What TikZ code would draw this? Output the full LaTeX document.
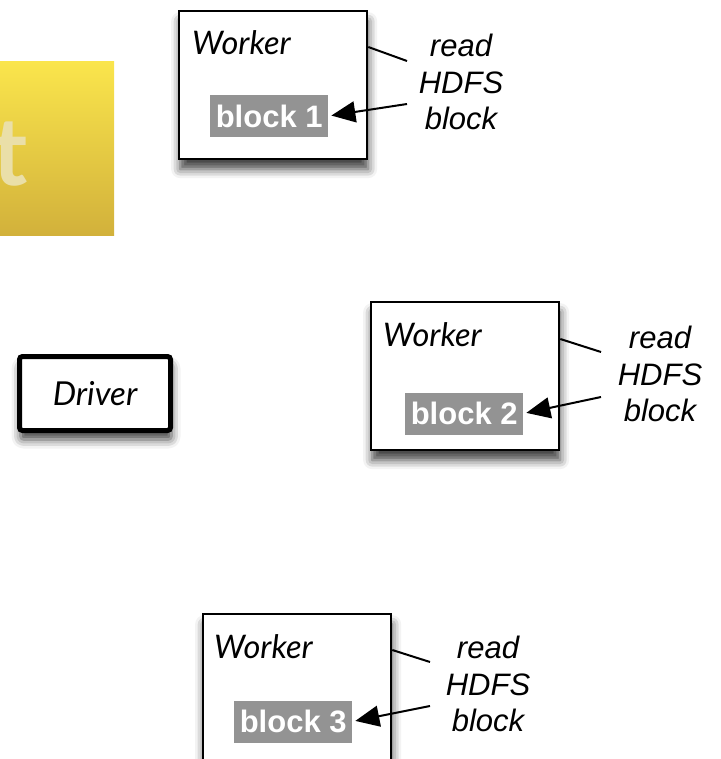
\documentclass[tikz,border=0pt]{standalone}
\usepackage{fontspec}
\setmainfont{Liberation Sans}
\newfontfamily\gillfont{Lato}
\usetikzlibrary{arrows.meta,shadows.blur}

\definecolor{slideyellow}{HTML}{FAE54C}
\definecolor{slidegold}{HTML}{D2B13B}
\definecolor{tcream}{HTML}{EADFA8}
\definecolor{blockgrey}{HTML}{939393}

\tikzset{
  worker/.style={draw,line width=2.3pt,fill=white,anchor=north west,inner sep=0pt,
    minimum width=188pt,minimum height=148pt,
    blur shadow={shadow xshift=1pt,shadow yshift=-10pt,shadow blur radius=9pt,shadow opacity=75}},
  wlabel/.style={anchor=base west,inner sep=0pt,font=\gillfont\itshape\fontsize{32.5}{38}\selectfont},
  blk/.style={anchor=west,fill=blockgrey,text=white,inner sep=0pt,
    minimum width=118pt,minimum height=42pt,font=\bfseries\fontsize{31}{36}\selectfont},
  note/.style={align=center,inner sep=0pt,font=\itshape\fontsize{31}{36.5}\selectfont},
  readarrow/.style={-{Triangle[length=24pt,width=21pt]},line width=2pt,shorten >=3pt},
}

\begin{document}
\begin{tikzpicture}[x=1pt,y=-1pt]
\useasboundingbox (0,0) rectangle (720,759);

% Slide fragment on the left
\begin{scope}
\clip (0,62) rectangle (114,235);
\shade[top color=slideyellow,bottom color=slidegold] (0,62) rectangle (114,235);
\node[font=\gillfont\bfseries\fontsize{95}{95}\selectfont,text=tcream,anchor=base east,inner sep=0pt] (tfrag) at (28,186) {t};
\end{scope}

% Driver
\node[draw,line width=5pt,rounded corners=3pt,fill=white,minimum width=151pt,minimum height=74pt,
  font=\gillfont\itshape\fontsize{33}{38}\selectfont,
  blur shadow={shadow xshift=1pt,shadow yshift=-9pt,shadow blur radius=9pt,shadow opacity=75}] (drv) at (95,393.5) {Driver};

% Workers
\node[worker] (w1) at (178,10) {};
\node[worker] (w2) at (370,301) {};
\node[worker,minimum height=200pt] (w3) at (202,613) {};

\node[wlabel] (wt1) at (192,55) {Worker};
\node[wlabel] (wt2) at (383,346) {Worker};
\node[wlabel] (wt3) at (214,658) {Worker};

% HDFS blocks
\node[blk] (b1) at (210,116) {block 1};
\node[blk] (b2) at (405,413.5) {block 2};
\node[blk] (b3) at (234,721.5) {block 3};

% Notes
\node[note] (r1) at (461,82) {read\\HDFS\\block};
\node[note] (r2) at (660,374) {read\\HDFS\\block};
\node[note] (r3) at (488,684) {read\\HDFS\\block};

\coordinate (l1) at (407,61);
\coordinate (l2) at (601,352);
\coordinate (l3) at (430,662);
\coordinate (a1) at (407,104);
\coordinate (a2) at (601,397);
\coordinate (a3) at (430,706);

% Connectors
\draw[line width=2pt] ([yshift=-37pt]w1.north east) -- (l1);
\draw[line width=2pt] ([yshift=-38pt]w2.north east) -- (l2);
\draw[line width=2pt] ([yshift=-37pt]w3.north east) -- (l3);
\draw[readarrow] (a1) -- (b1.east);
\draw[readarrow] (a2) -- (b2.east);
\draw[readarrow] (a3) -- (b3.east);

\end{tikzpicture}
\end{document}
